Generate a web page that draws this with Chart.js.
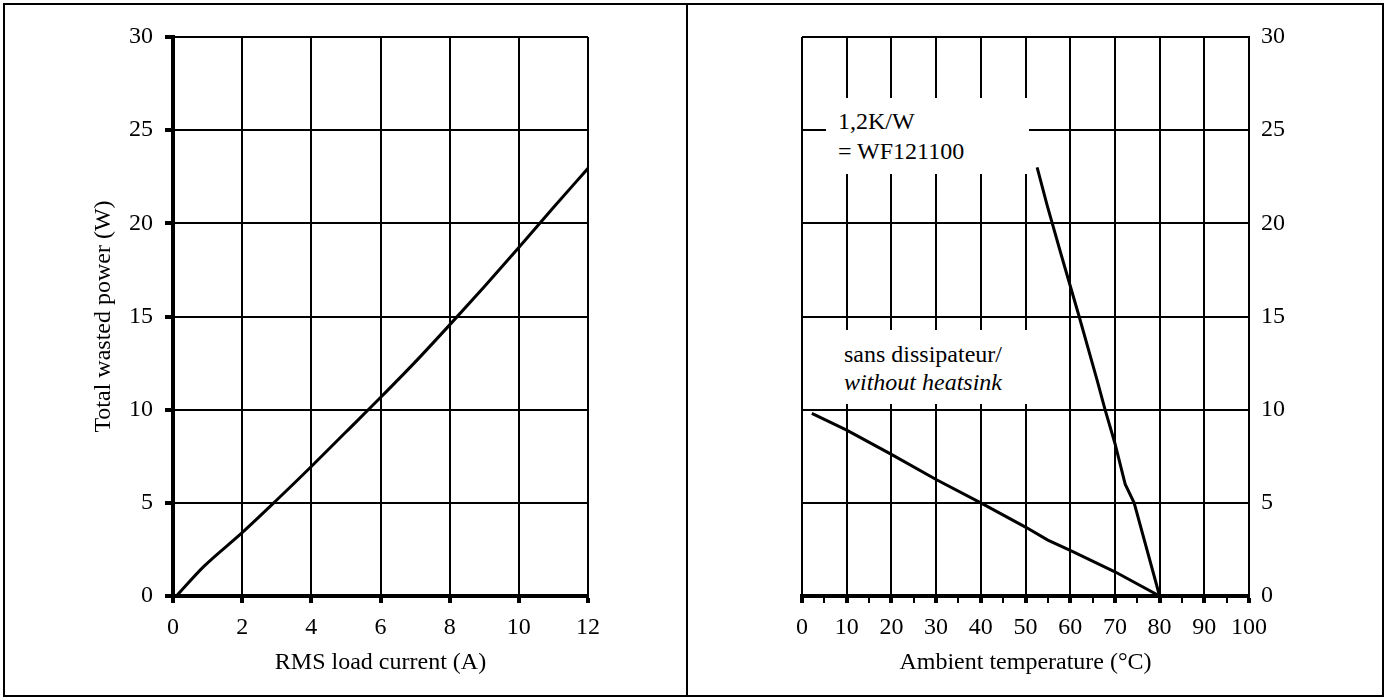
<!DOCTYPE html>
<html>
<head>
<meta charset="utf-8">
<script src="https://cdn.jsdelivr.net/npm/chart.js@4.4.0/dist/chart.umd.min.js"></script>
<style>
  html, body { margin: 0; padding: 0; background: #fff; }
  body { width: 1391px; height: 698px; position: relative; overflow: hidden; font-family: "Liberation Serif", serif; }
  .box { position: absolute; }
  .frame { position: absolute; left: 3px; top: 3px; width: 1381px; height: 694px; border: 2px solid #000; box-sizing: border-box; pointer-events: none; }
  .divider { position: absolute; left: 686px; top: 3px; width: 2px; height: 694px; background: #000; }
  .note { position: absolute; background: #fff; color: #000; font-size: 24px; box-sizing: border-box; white-space: nowrap; }
</style>
</head>
<body>
<div class="box" style="left:0;top:0;width:687px;height:698px"><canvas id="powerChart"></canvas></div>
<div class="box" style="left:688px;top:0;width:703px;height:698px"><canvas id="derateChart"></canvas></div>

<div class="note" style="left:826px;top:98px;width:203px;height:76px;padding:8px 0 0 12px;line-height:30px">1,2K/W<br>= WF121100</div>
<div class="note" style="left:812px;top:330px;width:248px;height:74px;padding:10px 0 0 32px;line-height:28px">sans dissipateur/<br><i>without heatsink</i></div>

<div class="frame"></div>
<div class="divider"></div>

<script>
// left graph : wasted power vs load current
const loadCurrent = [0.1, 0.9, 2, 3, 4, 5, 6, 7, 8, 9, 10, 11, 12]
const wastedPower = [0, 1.6, 3.4, 5.15, 6.95, 8.8, 10.65, 12.55, 14.55, 16.6, 18.7, 20.85, 22.95]

// right graph : derating vs ambient temperature
const tempNoSink = [2.2, 10, 20, 30, 40, 50, 55, 60, 70, 80]
const powerNoSink = [9.8, 8.9, 7.6, 6.25, 5.0, 3.7, 3.0, 2.45, 1.3, 0]
const tempSink = [52.6, 54.8, 58, 62, 66, 67.8, 70, 72.3, 74.3, 80]
const powerSink = [23.0, 21.0, 18.3, 15.0, 11.6, 10.0, 8.2, 6.0, 5.0, 0]

const currentTicks = [0, 12, 2]      // min, max, step
const tempTicks = [0, 100, 5]
const powerTicks = [0, 30, 5]

Chart.defaults.font.family = '"Liberation Serif", "Times New Roman", serif'
Chart.defaults.font.size = 24
Chart.defaults.color = '#000'
Chart.defaults.animation = false
Chart.defaults.plugins.legend.display = false
Chart.defaults.plugins.tooltip.enabled = false

function toPoints(xs, ys) {
	var pts = []
	for (var i = 0; i < xs.length; i++) {
		pts.push({ x: xs[i], y: ys[i] })
	}
	return pts
}

function lineSet(xs, ys, smooth) {
	return {
		data: toPoints(xs, ys),
		borderColor: '#000',
		borderWidth: 3,
		pointRadius: 0,
		tension: 0,
		cubicInterpolationMode: smooth ? 'monotone' : 'default',
		fill: false
	}
}

// Puissance dissipée
new Chart(document.getElementById('powerChart'), {
	type: 'line',
	data: { datasets: [lineSet(loadCurrent, wastedPower, true)] },
	options: {
		responsive: true,
		maintainAspectRatio: false,
		layout: { padding: { left: 0, top: 37, right: 99, bottom: 0 } },
		scales: {
			x: {
				type: 'linear',
				min: currentTicks[0], max: currentTicks[1],
				ticks: { stepSize: currentTicks[2], padding: 10, maxRotation: 0 },
				grid: { color: '#000', lineWidth: 2, tickLength: 7, tickWidth: 4 },
				border: { color: '#000', width: 4 },
				title: { display: true, text: 'RMS load current (A)', padding: { top: 0, bottom: 21 } },
				afterFit: function (scale) { scale.height = 102 }
			},
			y: {
				min: powerTicks[0], max: powerTicks[1],
				ticks: { stepSize: powerTicks[2], padding: 12 },
				grid: { color: '#000', lineWidth: 2, tickLength: 8, tickWidth: 4 },
				border: { color: '#000', width: 4 },
				title: { display: true, text: 'Total wasted power (W)', padding: { top: 89, bottom: 0 } },
				afterFit: function (scale) { scale.width = 173 }
			}
		}
	}
})

// Température ambiante
function isMajor(ctx) {
	return ctx.tick && ctx.tick.value % 10 === 0
}

new Chart(document.getElementById('derateChart'), {
	type: 'line',
	data: { datasets: [lineSet(tempNoSink, powerNoSink, false), lineSet(tempSink, powerSink, false)] },
	options: {
		responsive: true,
		maintainAspectRatio: false,
		layout: { padding: { left: 114, top: 37, right: 0, bottom: 0 } },
		scales: {
			x: {
				type: 'linear',
				min: tempTicks[0], max: tempTicks[1],
				ticks: {
					stepSize: tempTicks[2], padding: 10, maxRotation: 0, autoSkip: false,
					callback: function (v) { return v % 10 === 0 ? v : '' }
				},
				grid: {
					color: function (ctx) { return isMajor(ctx) ? '#000' : 'rgba(0,0,0,0)' },
					lineWidth: 2,
					tickLength: 7,
					tickColor: '#000',
					tickWidth: function (ctx) { return isMajor(ctx) ? 4 : 2 }
				},
				border: { color: '#000', width: 4 },
				title: { display: true, text: 'Ambient temperature (°C)', padding: { top: 0, bottom: 21 } },
				afterFit: function (scale) { scale.height = 102 }
			},
			y: {
				position: 'right',
				min: powerTicks[0], max: powerTicks[1],
				ticks: { stepSize: powerTicks[2], padding: 12 },
				grid: { color: '#000', lineWidth: 2, drawTicks: false },
				border: { color: '#000', width: 2 },
				afterFit: function (scale) { scale.width = 142 }
			}
		}
	}
})
</script>
</body>
</html>
